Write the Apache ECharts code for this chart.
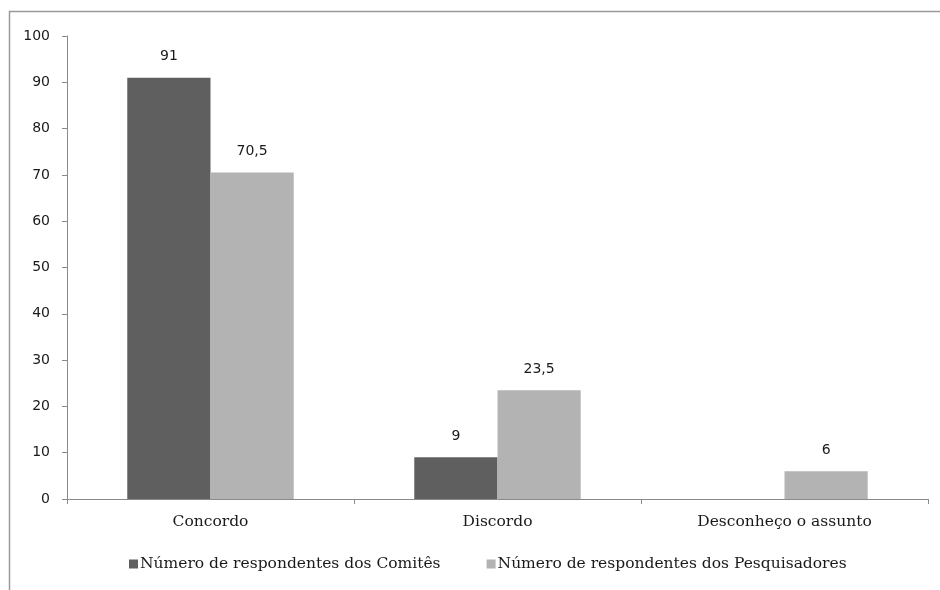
<!DOCTYPE html>
<html>
<head>
<meta charset="utf-8">
<script src="https://cdn.jsdelivr.net/npm/echarts@6/dist/echarts.min.js"></script>
<style>
  html, body { margin: 0; padding: 0; background: #fff; }
  #chart { width: 940px; height: 590px; }
</style>
</head>
<body>
<div id="chart"></div>
<script>
// Respostas por categoria
const categories = ['Concordo', 'Discordo', 'Desconheço o assunto'];
const comites = [91, 9, null];
const pesquisadores = [70.5, 23.5, 6];
const seriesNames = ['Número de respondentes dos Comitês', 'Número de respondentes dos Pesquisadores'];
const yTicks = { min: 0, max: 100, interval: 10 };

const serifFont = '"DejaVu Serif", "Liberation Serif", serif';
const sansFont = '"DejaVu Sans", "Liberation Sans", sans-serif';
const axisGray = '#8a8a8a';

const fmt = p => String(p.value).replace('.', ',');

const chart = echarts.init(document.getElementById('chart'), null, { renderer: 'canvas' });
chart.setOption({
  animation: false,
  backgroundColor: '#fff',
  graphic: [{
    type: 'rect',
    shape: { x: 9.5, y: 11.5, width: 1000, height: 1000 },
    style: { fill: 'none', stroke: '#9a9a9a', lineWidth: 1.5 },
    silent: true
  }],
  grid: { left: 67, right: 12, top: 36, bottom: 91 },
  legend: {
    bottom: 13,
    left: 124,
    itemWidth: 9,
    itemHeight: 9,
    itemGap: 46,
    icon: 'rect',
    textStyle: { fontFamily: serifFont, fontSize: 15.5, color: '#1a1a1a', padding: [0, 0, 0, -3] },
    data: seriesNames
  },
  xAxis: {
    type: 'category',
    data: categories,
    axisLine: { lineStyle: { color: axisGray, width: 1 } },
    axisTick: { show: true, length: 5, lineStyle: { color: axisGray } },
    axisLabel: { fontFamily: serifFont, fontSize: 15.5, color: '#1a1a1a', margin: 15 }
  },
  yAxis: {
    type: 'value',
    min: yTicks.min,
    max: yTicks.max,
    interval: yTicks.interval,
    splitLine: { show: false },
    axisLine: { show: true, lineStyle: { color: axisGray, width: 1 } },
    axisTick: { show: true, length: 5, lineStyle: { color: axisGray } },
    axisLabel: { fontFamily: sansFont, fontSize: 14, color: '#1a1a1a', margin: 17 }
  },
  series: [
    {
      name: seriesNames[0],
      type: 'bar',
      data: comites,
      barGap: '0%',
      barCategoryGap: '42%',
      itemStyle: { color: '#5f5f5f' },
      label: { show: true, position: 'top', distance: 14, formatter: fmt,
               fontFamily: sansFont, fontSize: 14, color: '#1a1a1a' }
    },
    {
      name: seriesNames[1],
      type: 'bar',
      data: pesquisadores,
      barGap: '0%',
      barCategoryGap: '42%',
      itemStyle: { color: '#b3b3b3' },
      label: { show: true, position: 'top', distance: 14, formatter: fmt,
               fontFamily: sansFont, fontSize: 14, color: '#1a1a1a' }
    }
  ]
});
</script>
</body>
</html>
